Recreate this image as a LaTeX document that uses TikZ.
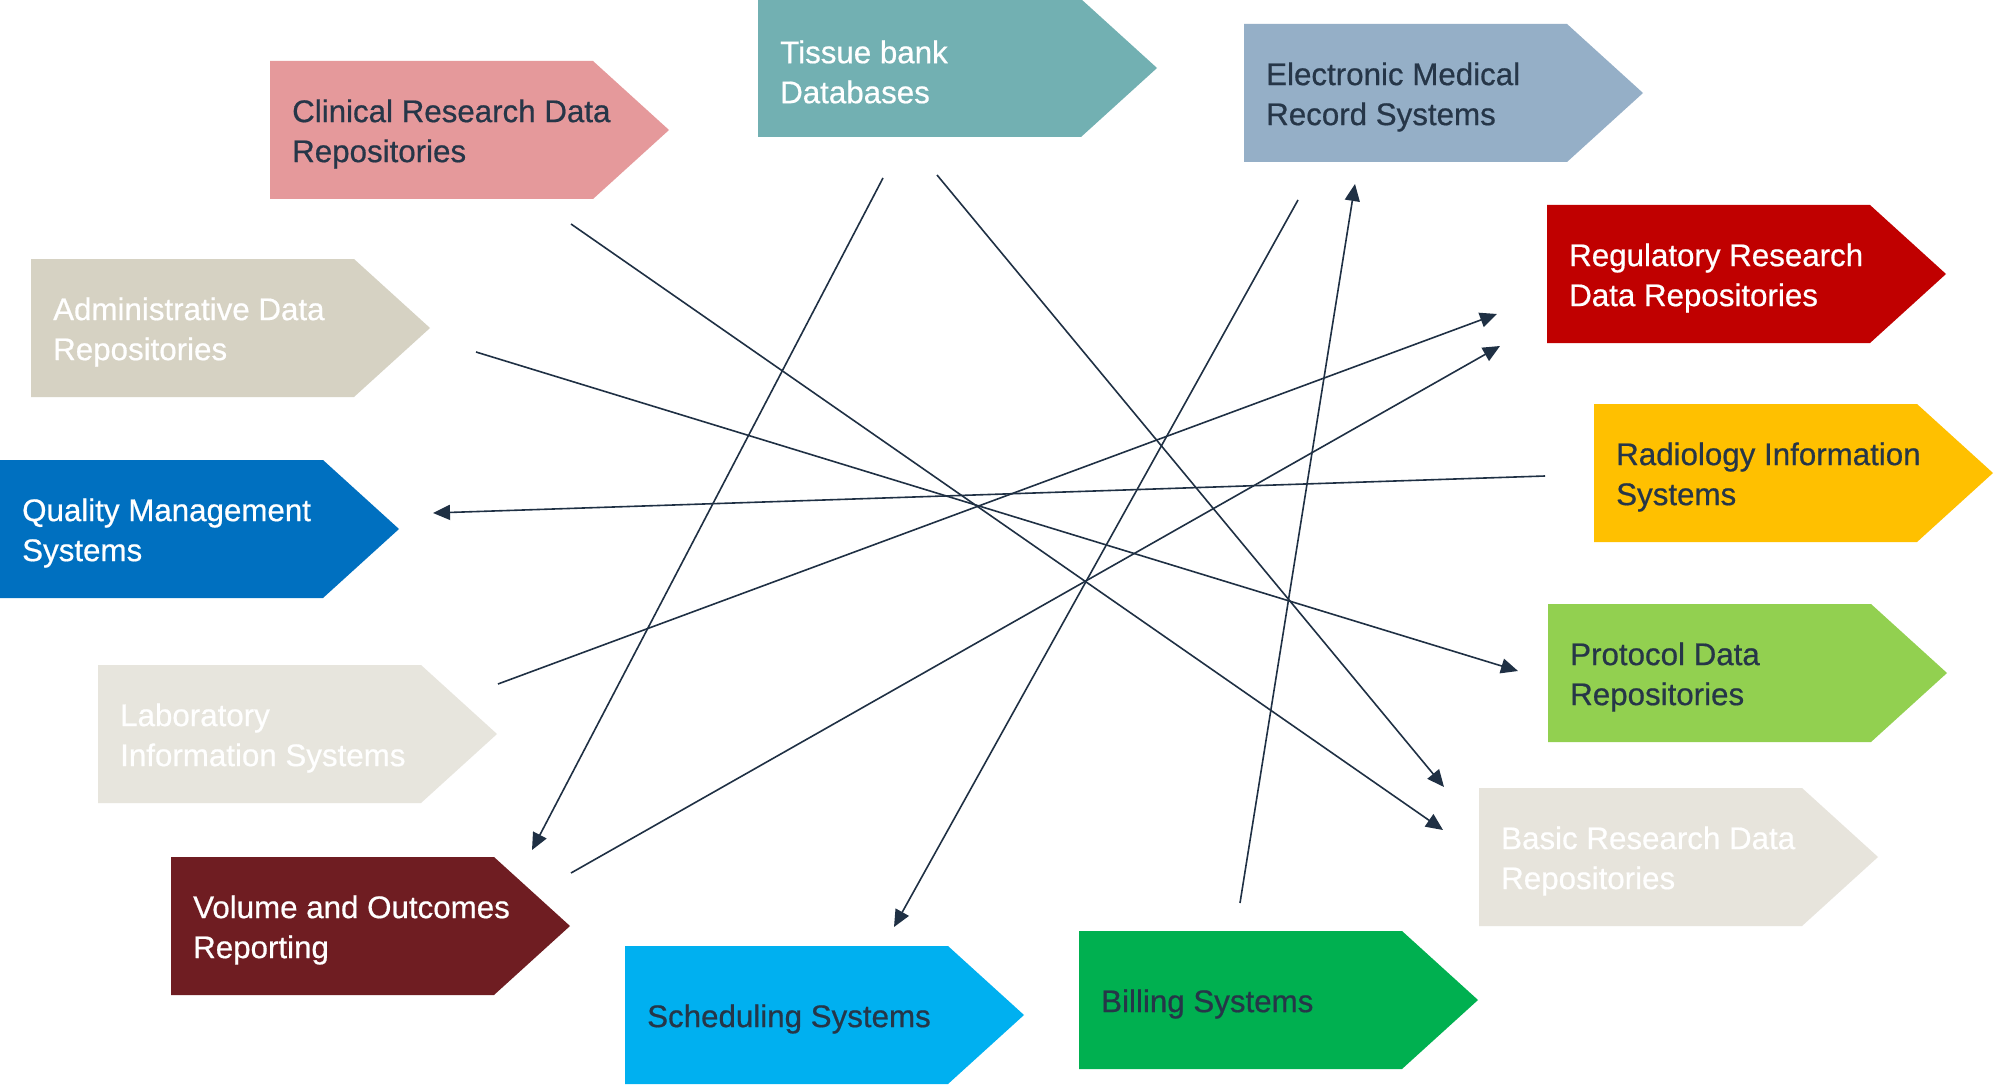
\documentclass[tikz,border=0pt]{standalone}
\usepackage{fontspec}
\setmainfont{Liberation Sans}[FakeBold=0.6]
\usetikzlibrary{arrows.meta}

\definecolor{inkdark}{HTML}{263648}
\definecolor{linkcol}{HTML}{1F3044}
\definecolor{cPink}{HTML}{E5999B}
\definecolor{cTeal}{HTML}{72B0B2}
\definecolor{cSteel}{HTML}{95AFC7}
\definecolor{cRed}{HTML}{C00000}
\definecolor{cAmber}{HTML}{FFC000}
\definecolor{cLime}{HTML}{92D050}
\definecolor{cPale}{HTML}{E7E4DC}
\definecolor{cGreen}{HTML}{00B050}
\definecolor{cSky}{HTML}{00B0F0}
\definecolor{cMaroon}{HTML}{6F1D22}
\definecolor{cLight}{HTML}{E7E5DD}
\definecolor{cBlue}{HTML}{0070C0}
\definecolor{cSand}{HTML}{D6D2C3}

\tikzset{
  tagtext/.style={anchor=west, align=left, inner sep=0pt,
    font=\fontsize{31.3}{40}\selectfont},
  conn/.style={draw=linkcol, line width=1.6pt,
    -{Triangle[length=17pt,width=15pt]}},
}

% arrow-shaped tag: name, left x, top y, fill, text colour, label
\newcommand\tagshape[6]{%
  \fill[#4] (#2,#3) -- ++(323,0) -- ++(76,69) -- ++(-76,69) -- ++(-323,0) -- cycle;
  \node[tagtext, text=#5] (#1) at (#2+22,#3+73) {#6};
}

\begin{document}
\begin{tikzpicture}[x=1pt,y=-1pt]
\useasboundingbox[fill=white] (0,0) rectangle (1997,1086);

\tagshape{clin}{270}{61}{cPink}{inkdark}{Clinical Research Data\\Repositories}
\tagshape{tiss}{758}{-1}{cTeal}{white}{Tissue bank\\Databases}
\tagshape{emr}{1244}{24}{cSteel}{inkdark}{Electronic Medical\\Record Systems}
\tagshape{reg}{1547}{205}{cRed}{white}{Regulatory Research\\Data Repositories}
\tagshape{rad}{1594}{404}{cAmber}{inkdark}{Radiology Information\\Systems}
\tagshape{prot}{1548}{604}{cLime}{inkdark}{Protocol Data\\Repositories}
\tagshape{basic}{1479}{788}{cPale}{white}{Basic Research Data\\Repositories}
\tagshape{bill}{1079}{931}{cGreen}{inkdark}{Billing Systems}
\tagshape{sched}{625}{946}{cSky}{inkdark}{Scheduling Systems}
\tagshape{vol}{171}{857}{cMaroon}{white}{Volume and Outcomes\\Reporting}
\tagshape{lab}{98}{665}{cLight}{white}{Laboratory\\Information Systems}
\tagshape{qual}{0}{460}{cBlue}{white}{Quality Management\\Systems}
\tagshape{admin}{31}{259}{cSand}{white}{Administrative Data\\Repositories}

% connector end points
\coordinate (clin-o)   at (571,224);
\coordinate (basic-i1) at (1443,830);
\coordinate (admin-o)  at (476,352);
\coordinate (prot-i)   at (1518,671);
\coordinate (tiss-o1)  at (883,178);
\coordinate (vol-i)    at (532,850);
\coordinate (tiss-o2)  at (937,175);
\coordinate (basic-i2) at (1444,787);
\coordinate (emr-o)    at (1298,200);
\coordinate (sched-i)  at (894,927);
\coordinate (bill-o)   at (1240,903);
\coordinate (emr-i)    at (1355,184);
\coordinate (rad-o)    at (1545,476);
\coordinate (qual-i)   at (433,513);
\coordinate (lab-o)    at (498,684);
\coordinate (reg-i1)   at (1497,314);
\coordinate (vol-o)    at (571,873);
\coordinate (reg-i2)   at (1500,346);

\draw[conn] (clin-o)  -- (basic-i1);
\draw[conn] (admin-o) -- (prot-i);
\draw[conn] (tiss-o1) -- (vol-i);
\draw[conn] (tiss-o2) -- (basic-i2);
\draw[conn] (emr-o)   -- (sched-i);
\draw[conn] (bill-o)  -- (emr-i);
\draw[conn] (rad-o)   -- (qual-i);
\draw[conn] (lab-o)   -- (reg-i1);
\draw[conn] (vol-o)   -- (reg-i2);
\end{tikzpicture}
\end{document}
